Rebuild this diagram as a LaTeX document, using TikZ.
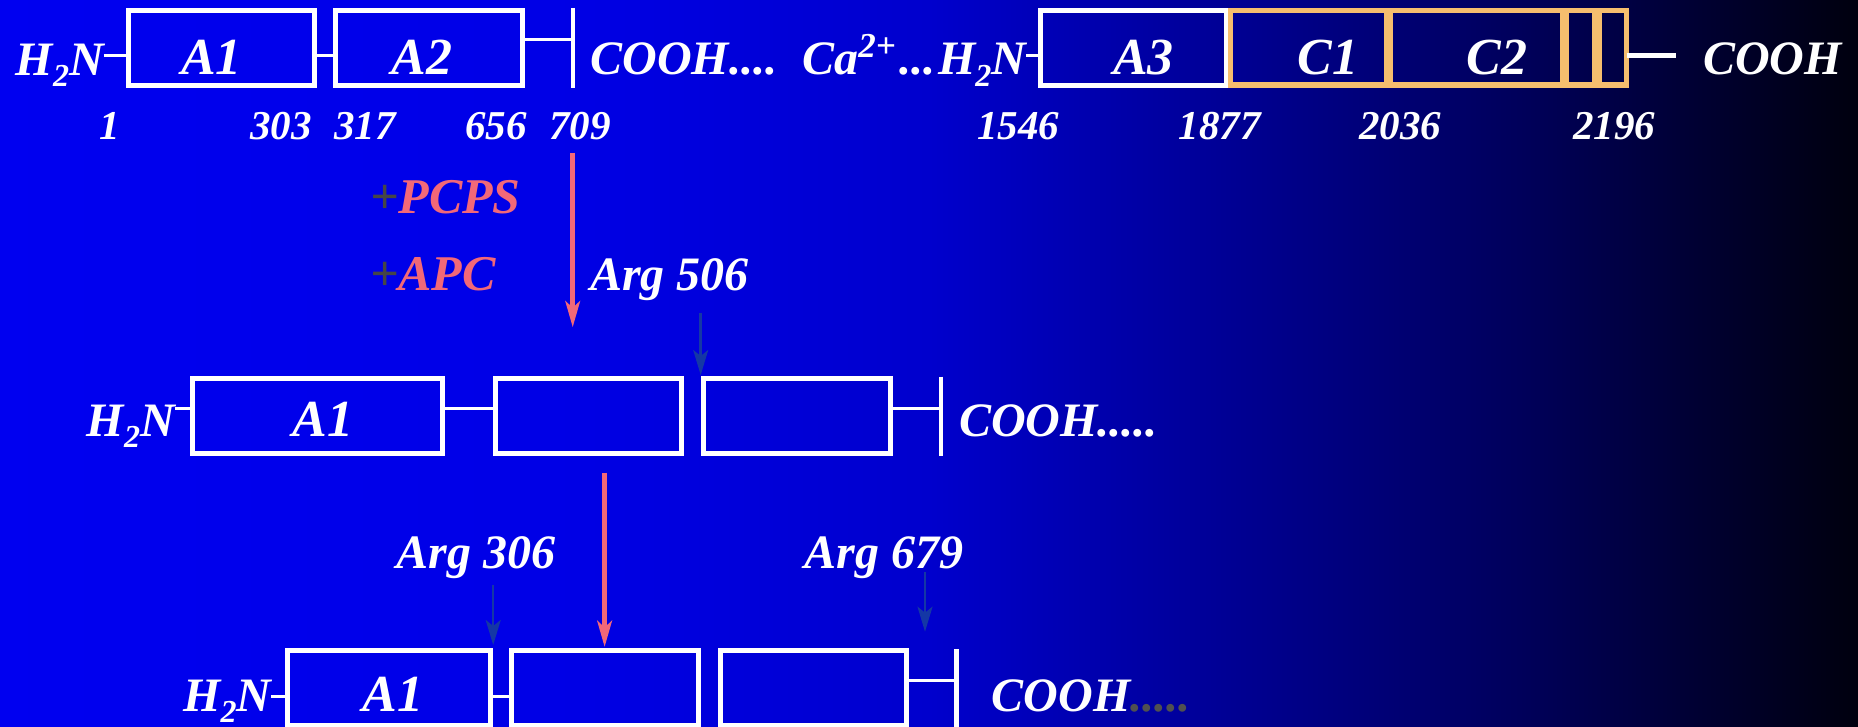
\documentclass[tikz,border=0pt]{standalone}
\usepackage{fontspec}
\setmainfont{Liberation Serif}
\usetikzlibrary{arrows.meta}
\definecolor{bgA}{RGB}{0,0,240}
\definecolor{bgB}{RGB}{0,0,230}
\definecolor{bgC}{RGB}{0,0,205}
\definecolor{bgD}{RGB}{0,0,152}
\definecolor{bgE}{RGB}{0,0,90}
\definecolor{bgF}{RGB}{0,0,14}
\definecolor{cOrange}{RGB}{246,190,110}
\definecolor{cPink}{RGB}{242,104,120}
\definecolor{cBlue}{RGB}{20,55,165}
\definecolor{plusgray}{RGB}{70,70,70}
\definecolor{dotgray}{RGB}{80,80,80}
\newcommand{\mysubtwo}{\raisebox{-4.4pt}{\fontsize{12.8}{14}\selectfont 2}}
\newcommand{\mysuptwo}{\raisebox{6.8pt}{\fontsize{14}{16}\selectfont 2+}}
\pgfdeclarehorizontalshading{bgshade}{100bp}{color(0bp)=(bgA); color(25bp)=(bgA); color(40bp)=(bgB); color(50bp)=(bgC); color(57.5bp)=(bgD); color(66bp)=(bgE); color(75bp)=(bgF); color(100bp)=(bgF)}
\begin{document}
\begin{tikzpicture}[x=0.4pt,y=-0.4pt,
  lbl/.style={text=white, font=\fontsize{19.2}{22}\selectfont\bfseries\itshape, inner sep=0pt, outer sep=0pt},
  boxlbl/.style={lbl, font=\fontsize{20.8}{24}\selectfont\bfseries\itshape, anchor=base},
  num/.style={lbl, font=\fontsize{16.4}{19}\selectfont\bfseries\itshape, anchor=base},
  reagent/.style={lbl, text=cPink, font=\fontsize{20}{23}\selectfont\bfseries\itshape, anchor=base west},
  wbox/.style={draw=white, line width=2pt, minimum height=30pt, inner sep=0pt, outer sep=0pt},
  obox/.style={draw=cOrange, line width=2.2pt, minimum height=29.8pt, inner sep=0pt, outer sep=0pt},
  link/.style={draw=white, line width=1.2pt},
  barline/.style={draw=white, line width=1.9pt},
  pinkarrow/.style={draw=cPink, line width=2pt, -{Stealth[length=10.4pt,width=5.8pt,inset=2.6pt]}},
  bluearrow/.style={draw=cBlue, line width=1pt, -{Stealth[length=10pt,width=6pt,inset=2.4pt]}}
]
\useasboundingbox (0,0) rectangle (1858,726);
\clip (0,0) rectangle (1858,726);
\shade[shading=bgshade] (0,0) rectangle (1858,726);

% ---------- top row ----------
\node[wbox, minimum width=74.56pt] (A1) at (221.4,48) {};
\node[wbox, minimum width=74.56pt] (A2) at (429,48) {};
\node[wbox, minimum width=74.4pt] (A3) at (1133,48) {};
\node[obox, minimum width=62.5pt] (C1) at (1308.5,48) {};
\node[obox, minimum width=69pt] (C2) at (1476.5,48) {};
\node[obox, minimum width=11.5pt] (s1) at (1580.6,48) {};
\node[obox, minimum width=10.8pt] (s2) at (1613,48) {};

\node[boxlbl] (lA1) at (211.6,75) {A1};
\node[boxlbl] (lA2) at (422,75) {A2};
\node[boxlbl] (lA3) at (1143.6,75) {A3};
\node[boxlbl] (lC1) at (1328,75) {C1};
\node[boxlbl] (lC2) at (1497,75) {C2};

\node[lbl, anchor=base west] (h2nA) at (15.8,76) {H\mysubtwo N};
\node[lbl, anchor=base west] (coohA) at (590.5,75) {COOH....};
\node[lbl, anchor=base east] (h2nB) at (1026,75) {H\mysubtwo N};
\node[lbl, anchor=base east] (ca) at (h2nB.base west) {Ca\mysuptwo\kern1.5pt...\kern1pt};
\node[lbl, anchor=base west] (coohB) at (1703,75) {COOH};

\node[num] (n1) at (110,139.3) {1};
\node[num] (n303) at (281,139.3) {303};
\node[num] (n317) at (365,139.3) {317};
\node[num] (n656) at (496,139.3) {656};
\node[num] (n709) at (580,139.3) {709};
\node[num] (n1546) at (1018,139.3) {1546};
\node[num] (n1877) at (1219.6,139.3) {1877};
\node[num] (n2036) at (1400,139.3) {2036};
\node[num] (n2196) at (1614,139.3) {2196};

\coordinate (yA) at (0,56);
\draw[link] (h2nA.east |- yA) -- (A1.west |- yA);
\draw[link] (A1.east |- yA) -- (A2.west |- yA);
\coordinate (barAt) at (573,8);
\coordinate (barAb) at (573,88);
\coordinate (barAm) at (573,40);
\draw[barline] (barAt) -- (barAb);
\draw[link] (A2.east |- barAm) -- (barAm);
\draw[link] (h2nB.east |- yA) -- (A3.west |- yA);
\coordinate (tailA) at (1675.5,56);
\draw[white, line width=2pt] (s2.east |- tailA) -- (tailA);

% ---------- reagents and arrows ----------
\node[reagent] (pcps) at (370,213.3) {\textcolor{plusgray}{+}PCPS};
\node[reagent] (apc) at (370,290) {\textcolor{plusgray}{+}APC};
\node[lbl, anchor=base west] (arg506) at (590,290) {Arg 506};
\coordinate (p1s) at (572.7,152.7);
\coordinate (p1e) at (572.7,327.3);
\draw[pinkarrow] (p1s) -- (p1e);
\coordinate (b1s) at (700.7,312.7);
\coordinate (b1e) at (700.7,375);
\draw[bluearrow] (b1s) -- (b1e);

% ---------- middle row ----------
\node[wbox, minimum width=100.1pt] (A1m) at (317.2,416) {};
\node[wbox, minimum width=74.4pt] (B2m) at (588.5,416) {};
\node[wbox, minimum width=74.8pt] (B3m) at (797,416) {};
\node[lbl, anchor=base west] (h2nC) at (86.8,436.7) {H\mysubtwo N};
\node[boxlbl] (lA1m) at (323,436.7) {A1};
\coordinate (yC) at (0,408.3);
\draw[link] (h2nC.east |- yC) -- (A1m.west |- yC);
\draw[link] (A1m.east |- yC) -- (B2m.west |- yC);
\coordinate (barCt) at (941,376.7);
\coordinate (barCb) at (941,455.7);
\coordinate (barCm) at (941,408.3);
\draw[barline] (barCt) -- (barCb);
\draw[link] (B3m.east |- barCm) -- (barCm);
\node[lbl, anchor=base west] (coohC) at (959,436.7) {COOH.....};

% ---------- second cleavage ----------
\coordinate (p2s) at (604.6,472.7);
\coordinate (p2e) at (604.6,647);
\draw[pinkarrow] (p2s) -- (p2e);
\node[lbl, anchor=base west] (arg306) at (396.8,568.3) {Arg 306};
\node[lbl, anchor=base west] (arg679) at (804.3,568.3) {Arg 679};
\coordinate (b2s) at (493.2,585);
\coordinate (b2e) at (493.2,645);
\draw[bluearrow] (b2s) -- (b2e);
\coordinate (b3s) at (925,572);
\coordinate (b3e) at (925,631.7);
\draw[bluearrow] (b3s) -- (b3e);

% ---------- bottom row ----------
\node[wbox, minimum width=81.3pt] (A1b) at (389.2,688.3) {};
\node[wbox, minimum width=74.9pt] (B2b) at (604.9,688.3) {};
\node[wbox, minimum width=74.3pt] (B3b) at (813.4,688.3) {};
\node[lbl, anchor=base west] (h2nD) at (183.3,711.7) {H\mysubtwo N};
\node[boxlbl] (lA1b) at (393,711.7) {A1};
\coordinate (yD) at (0,696);
\draw[link] (h2nD.east |- yD) -- (A1b.west |- yD);
\draw[link] (A1b.east |- yD) -- (B2b.west |- yD);
\coordinate (barDt) at (956.6,649);
\coordinate (barDb) at (956.6,740);
\coordinate (barDm) at (956.6,680);
\draw[barline] (barDt) -- (barDb);
\draw[link] (B3b.east |- barDm) -- (barDm);
\node[lbl, anchor=base west] (coohD) at (991.7,711.7) {COOH\textcolor{dotgray}{.....}};
\end{tikzpicture}
\end{document}
